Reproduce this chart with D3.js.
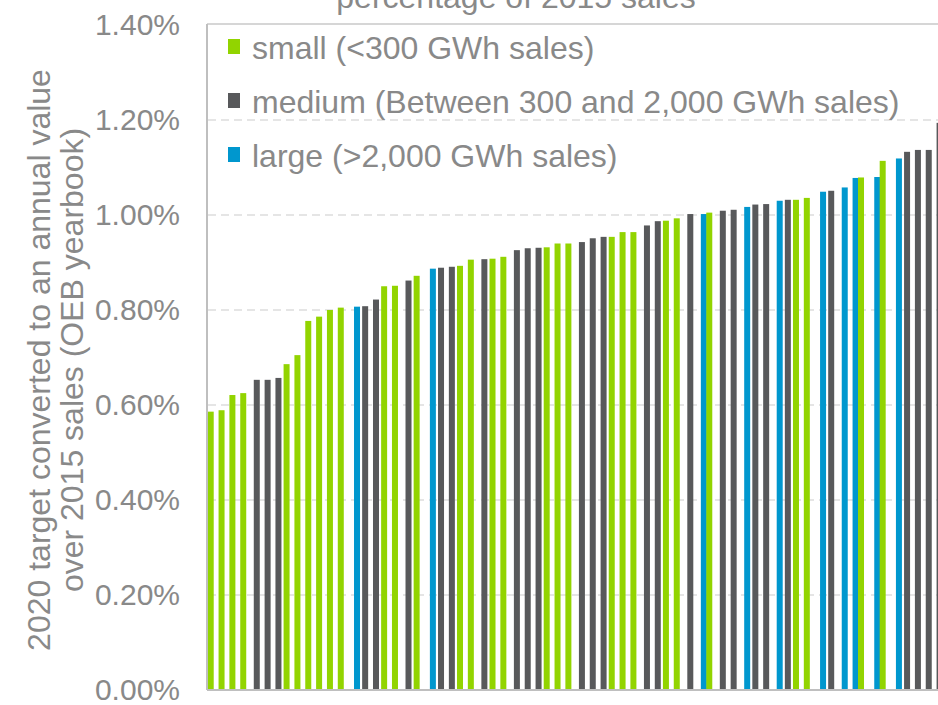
<!DOCTYPE html>
<html>
<head>
<meta charset="utf-8">
<script src="https://cdn.jsdelivr.net/npm/d3@7"></script>
<style>
  body { margin: 0; background: #fff; }
  text { font-family: "Liberation Sans", Arial, sans-serif; fill: #898989; font-size: 32px; }
</style>
</head>
<body>
<svg id="chart" width="938" height="705"></svg>
<script>
// values in percent, sorted as in the chart
const values = [0.586, 0.589, 0.621, 0.625, 0.653, 0.653, 0.657, 0.686, 0.705, 0.777,
    0.786, 0.800, 0.805, 0.807, 0.808, 0.822, 0.850, 0.851, 0.862, 0.872,
    0.887, 0.889, 0.891, 0.893, 0.906, 0.907, 0.908, 0.912, 0.926, 0.930,
    0.931, 0.932, 0.940, 0.940, 0.943, 0.951, 0.954, 0.954, 0.964, 0.964,
    0.978, 0.987, 0.988, 0.993, 1.002, 1.002, 1.005, 1.009, 1.011, 1.017,
    1.022, 1.023, 1.030, 1.032, 1.032, 1.036, 1.049, 1.051, 1.058, 1.078,
    1.079, 1.080, 1.114, 1.119, 1.133, 1.137, 1.137, 1.194];
// S = small, M = medium, L = large
const groups = 'SSSSMMMSSSSSSLMMSSMSLMMSSMSSMMMSSSMMMSSSMMSSMLSMMLMMLMSSLMLLSLSLMMMM'.split('');
const group_keys = ['S', 'M', 'L'];
const group_labels = ['small (<300 GWh sales)', 'medium (Between 300 and 2,000 GWh sales)', 'large (>2,000 GWh sales)'];
const group_colors = ['#92D400', '#58595B', '#0097CE'];
const y_ticks = [0, 0.2, 0.4, 0.6, 0.8, 1.0, 1.2, 1.4];
const title_text = 'percentage of 2015 sales';
const y_title_lines = ['2020 target converted to an annual value', 'over 2015 sales (OEB yearbook)'];

const svg = d3.select('#chart');
const color = d3.scaleOrdinal().domain(group_keys).range(group_colors);

let x = d3.scaleBand().domain(d3.range(values.length)).range([208, 945]).padding(0);
let sub = d3.scalePoint().domain(group_keys).range([-2.7, 2.7]);
let y = d3.scaleLinear().domain([0, 1.4]).range([690, 25]);
const bar_width = 6;

// grid
svg.append('g').selectAll('line')
    .data(y_ticks.filter(t => t > 0 && t < 1.4))
    .join('line')
    .attr('x1', 208).attr('x2', 938)
    .attr('y1', d => y(d)).attr('y2', d => y(d))
    .attr('stroke', '#DDDDDD').attr('stroke-width', 1.5)
    .attr('stroke-dasharray', '8,5');

svg.append('line')
    .attr('x1', 207).attr('x2', 938).attr('y1', y(1.4) - 1).attr('y2', y(1.4) - 1)
    .attr('stroke', '#C8C8C8').attr('stroke-width', 1.5);

// bars
svg.append('g').selectAll('rect')
    .data(values)
    .join('rect')
    .attr('x', (d, i) => x(i) + x.bandwidth() / 2 + sub(groups[i]) - bar_width / 2)
    .attr('width', bar_width)
    .attr('y', d => y(d))
    .attr('height', d => y(0) - y(d))
    .attr('fill', (d, i) => color(groups[i]));

// axes lines
svg.append('line')
    .attr('x1', 207).attr('x2', 207).attr('y1', y(1.4) - 1).attr('y2', y(0))
    .attr('stroke', '#BFBFBF').attr('stroke-width', 2);
svg.append('line')
    .attr('x1', 207).attr('x2', 938).attr('y1', y(0)).attr('y2', y(0))
    .attr('stroke', '#BFBFBF').attr('stroke-width', 2);

// tick labels
svg.append('g').selectAll('text')
    .data(y_ticks)
    .join('text')
    .attr('x', 180)
    .attr('y', d => y(d))
    .attr('dy', '0.34em')
    .attr('text-anchor', 'end')
    .style('font-size', '30px')
    .text(d => d.toFixed(2) + '%');

// y title
y_title_lines.forEach((line, i) => {
    svg.append('text')
        .attr('transform', 'translate(' + (50 + i * 33) + ',360) rotate(-90)')
        .attr('text-anchor', 'middle')
        .text(line);
});

// chart title (cut off at the top, as in the source)
svg.append('text')
    .attr('x', 516).attr('y', 8)
    .attr('text-anchor', 'middle')
    .text(title_text);

// legend
let legend = svg.append('g').selectAll('g')
    .data(group_keys)
    .join('g')
    .attr('transform', (d, i) => 'translate(228,' + (47 + i * 54) + ')');
legend.append('rect')
    .attr('x', 0).attr('y', -8).attr('width', 12).attr('height', 15)
    .attr('fill', d => color(d));
legend.append('text')
    .attr('x', 24).attr('y', 0).attr('dy', '0.36em')
    .text((d, i) => group_labels[i]);
</script>
</body>
</html>
